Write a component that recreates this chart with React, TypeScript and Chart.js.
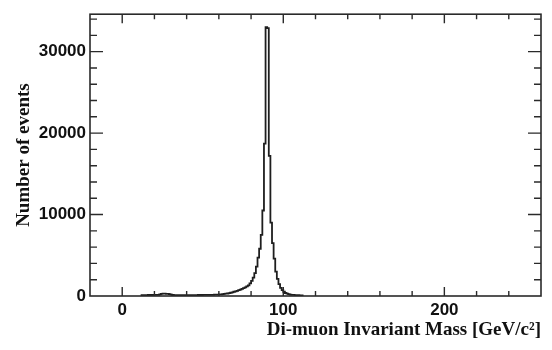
import React, { useEffect, useRef } from "react";
import { Chart, registerables } from "chart.js";

Chart.register(...registerables);

// Histogram: 1 GeV bins starting at 12 GeV
const binStart = 12;
const binWidth = 1;
const counts = [
  // 12-23
  100, 100, 110, 110, 110, 120, 120, 120, 130, 130, 140, 150,
  // 24-31
  200, 260, 280, 280, 270, 260, 240, 160,
  // 32-58
  120, 110, 110, 110, 100, 100, 100, 100, 100, 100, 100, 110, 110, 110, 110, 110,
  120, 120, 120, 130, 130, 130, 140, 140, 150, 150, 160,
  // 59-72
  170, 180, 190, 210, 230, 250, 280, 310, 350, 400, 450, 520, 580, 640,
  // 73-89
  720, 790, 870, 960, 1060, 1170, 1300, 1550, 1850, 2250, 2800, 3600, 4700, 5800,
  7500, 10500, 18700,
  // 90-91
  33000, 32900,
  // 92-111
  17200, 9000, 6500, 4600, 3000, 2100, 1450, 1000, 720, 520, 370, 280, 220, 180,
  150, 130, 110, 100, 90, 80,
];

const xMin = -20;
const xMax = 260;
const yMin = 0;
const yMax = 34600;
const xMajorTicks = [0, 100, 200];
const xMinorStep = 20;
const yMajorTicks = [0, 10000, 20000, 30000];
const yMinorStep = 2000;
const xTitle = "Di-muon Invariant Mass [GeV/c\u00B2]";
const yTitle = "Number of events";

const framePlugin = {
  id: "rootFrame",
  afterDatasetsDraw(chart: any) {
    const { ctx, chartArea } = chart;
    const xs = chart.scales.x;
    const ys = chart.scales.y;
    const { left, right, top, bottom } = chartArea;
    ctx.save();
    ctx.strokeStyle = "#2a2a2a";
    ctx.lineWidth = 1.6;
    ctx.strokeRect(left, top, right - left, bottom - top);
    ctx.lineWidth = 1.4;
    ctx.beginPath();
    // x ticks
    for (let v = Math.ceil(xMin / xMinorStep) * xMinorStep; v <= xMax; v += xMinorStep) {
      const px = xs.getPixelForValue(v);
      if (px <= left + 1 || px >= right - 1) continue;
      const len = xMajorTicks.includes(v) ? 9 : 5;
      ctx.moveTo(px, bottom);
      ctx.lineTo(px, bottom - len);
      ctx.moveTo(px, top);
      ctx.lineTo(px, top + len);
    }
    // y ticks
    for (let v = yMin; v <= yMax; v += yMinorStep) {
      const py = ys.getPixelForValue(v);
      if (py >= bottom - 1 || py <= top + 1) continue;
      const len = yMajorTicks.includes(v) ? 13 : 7;
      ctx.moveTo(left, py);
      ctx.lineTo(left + len, py);
      ctx.moveTo(right, py);
      ctx.lineTo(right - len, py);
    }
    ctx.stroke();
    ctx.restore();
  },
};

export default function App() {
  const ref = useRef<HTMLCanvasElement>(null);
  useEffect(() => {
    if (!ref.current) return;
    const pts: { x: number; y: number }[] = [];
    pts.push({ x: binStart, y: 0 });
    counts.forEach((c, i) => pts.push({ x: binStart + i * binWidth, y: c }));
    const end = binStart + counts.length * binWidth;
    pts.push({ x: end, y: counts[counts.length - 1] });
    pts.push({ x: end, y: 0 });

    const tickFont = { family: "'Liberation Sans', Arial, sans-serif", size: 17, weight: "bold" as const };
    const titleFont = { family: "'Liberation Serif', 'Times New Roman', serif", size: 19, weight: "bold" as const };
    const plain = (v: any) => String(v);

    const chart = new Chart(ref.current, {
      type: "line",
      data: {
        datasets: [
          {
            data: pts,
            stepped: "after",
            borderColor: "#1e1e1e",
            borderWidth: 1.8,
            pointRadius: 0,
            fill: false,
          },
        ],
      },
      options: {
        responsive: false,
        animation: false,
        layout: { padding: { top: 8, right: 11, left: 0, bottom: 0 } },
        plugins: { legend: { display: false }, tooltip: { enabled: false } },
        scales: {
          x: {
            type: "linear",
            min: xMin,
            max: xMax,
            grid: { display: false, drawTicks: false },
            border: { display: false },
            afterBuildTicks: (s: any) => {
              s.ticks = xMajorTicks.map((v) => ({ value: v }));
            },
            afterFit: (s: any) => {
              s.height = 54;
            },
            ticks: { font: tickFont, color: "#111", padding: 4, maxRotation: 0, autoSkip: false, callback: plain },
            title: {
              display: true,
              text: xTitle,
              align: "end",
              font: titleFont,
              color: "#111",
              padding: { top: 0, bottom: 9 },
            },
          },
          y: {
            type: "linear",
            min: yMin,
            max: yMax,
            grid: { display: false, drawTicks: false },
            border: { display: false },
            afterBuildTicks: (s: any) => {
              s.ticks = yMajorTicks.map((v) => ({ value: v }));
            },
            afterFit: (s: any) => {
              s.width = 90;
            },
            ticks: { font: tickFont, color: "#111", padding: 4, autoSkip: false, callback: plain },
            title: {
              display: true,
              text: yTitle,
              font: titleFont,
              color: "#111",
              padding: { top: 13, bottom: 0 },
            },
          },
        },
      },
      plugins: [framePlugin],
    });
    return () => chart.destroy();
  }, []);
  return (
    <div style={{ position: "fixed", left: 0, top: 0, width: 552, height: 350, background: "#fff" }}>
      <canvas ref={ref} width={552} height={350} style={{ width: 552, height: 350 }} />
    </div>
  );
}
